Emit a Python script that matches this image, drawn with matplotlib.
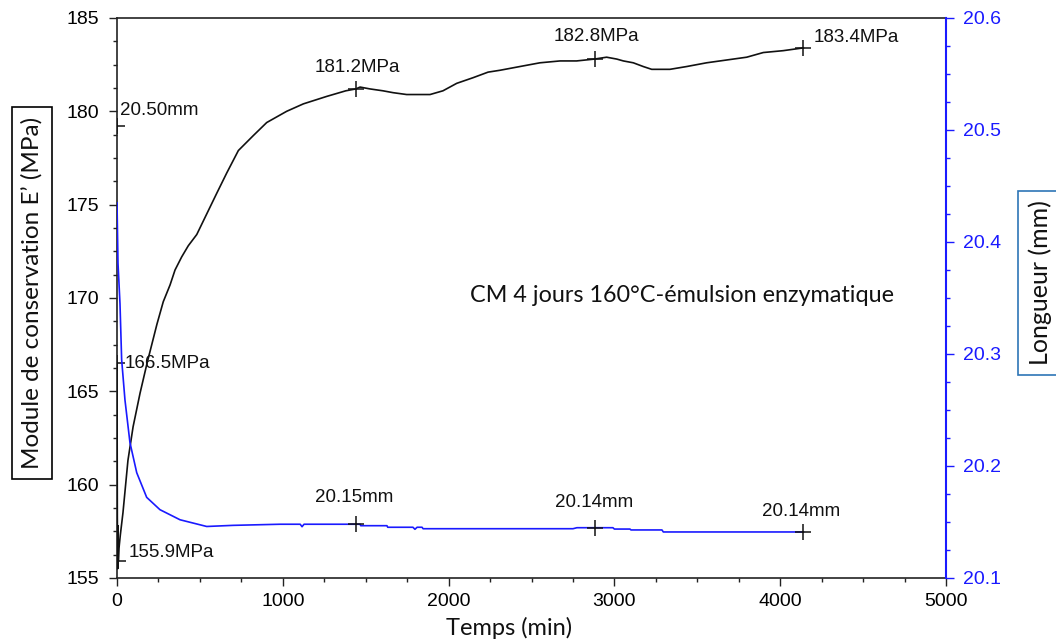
import matplotlib
matplotlib.use("Agg")
import matplotlib.pyplot as plt
from matplotlib.ticker import MultipleLocator, FormatStrFormatter

# modulus E' (MPa) vs time (min)
t_mod = [0, 2, 4, 6, 8, 12, 20, 36, 66, 97, 139, 181, 241, 279, 320, 350, 390, 430,
         481, 541, 601, 662, 732, 822, 903, 1023, 1124, 1265, 1380, 1440, 1466, 1526,
         1604, 1665, 1747, 1888, 1966, 2049, 2147, 2238, 2310, 2430, 2551, 2672, 2772,
         2880, 2953, 3014, 3054, 3114, 3174, 3225, 3335, 3436, 3556, 3677, 3798, 3898,
         4018, 4140]
mod = [166.5, 158.3, 155.5, 157.8, 155.9, 156.6, 157.3, 158.5, 161.3, 163.1, 164.9,
       166.5, 168.6, 169.8, 170.7, 171.5, 172.2, 172.8, 173.4, 174.5, 175.6, 176.7,
       177.9, 178.7, 179.4, 180.0, 180.4, 180.8, 181.1, 181.2, 181.3, 181.2, 181.1,
       181.0, 180.9, 180.9, 181.1, 181.5, 181.8, 182.1, 182.2, 182.4, 182.6, 182.7,
       182.7, 182.8, 182.9, 182.8, 182.7, 182.6, 182.4, 182.25, 182.25, 182.4, 182.6,
       182.75, 182.9, 183.15, 183.25, 183.4]

# length (mm) vs time (min)
t_len = [0, 6, 18, 28, 48, 78, 119, 179, 259, 380, 541, 700, 983, 1105, 1116, 1128,
         1466, 1470, 1628, 1633, 1785, 1797, 1810, 1840, 1846, 2750, 2774, 2991, 3000,
         3094, 3100, 3287, 3295, 4140]
length = [20.435, 20.381, 20.345, 20.295, 20.259, 20.221, 20.194, 20.172, 20.161,
          20.152, 20.146, 20.147, 20.148, 20.148, 20.1458, 20.148, 20.148, 20.1467,
          20.1467, 20.1453, 20.1453, 20.1435, 20.1453, 20.1453, 20.144, 20.144,
          20.1449, 20.1449, 20.1437, 20.1437, 20.1429, 20.1429, 20.1411, 20.1411]

# cursor markers
mark_mod_t = [0, 8, 1440, 2880, 4140]
mark_mod_v = [166.5, 155.9, 181.2, 182.8, 183.4]
mark_mod_txt = ["166.5MPa", "155.9MPa", "181.2MPa", "182.8MPa", "183.4MPa"]
mark_len_t = [0, 1440, 2880, 4140]
mark_len_v = [20.504, 20.148, 20.1449, 20.1411]
mark_len_txt = ["20.50mm", "20.15mm", "20.14mm", "20.14mm"]

tick_font = "Liberation Sans"
label_font = "Lato"
blue = "#1a1aff"

fig = plt.figure(figsize=(10.56, 6.41), dpi=100)
ax = fig.add_axes([117 / 1056, 63 / 641, 829 / 1056, 560 / 641])
ax2 = ax.twinx()

ax.plot(t_mod, mod, color="#111111", lw=1.2, zorder=3)
ax2.plot(t_len, length, color=blue, lw=1.2, zorder=3)

ax.plot(mark_mod_t, mark_mod_v, "+", color="#111111", ms=12, mew=1.1, zorder=4)
ax2.plot(mark_len_t, mark_len_v, "+", color="#111111", ms=12, mew=1.1, zorder=4)

# label offsets in pixels, with alignment
mod_off = [(8, 0, "left"), (10, 9, "left"), (2, 21, "center"), (2, 23, "center"), (10, 10, "left")]
len_off = [(3, 15, "left"), (-2, 27, "center"), (0, 25, "center"), (-2, 20, "center")]
for x, y, s, (dx, dy, ha) in zip(mark_mod_t, mark_mod_v, mark_mod_txt, mod_off):
    ax.annotate(s, xy=(x, y), xytext=(dx, dy), textcoords="offset pixels",
                ha=ha, va="center", fontsize=13.5, family=tick_font, color="#111111")
for x, y, s, (dx, dy, ha) in zip(mark_len_t, mark_len_v, mark_len_txt, len_off):
    ax2.annotate(s, xy=(x, y), xytext=(dx, dy), textcoords="offset pixels",
                 ha=ha, va="center", fontsize=13.5, family=tick_font, color="#111111")

ax.set_xlim(0, 5000)
ax.set_ylim(155, 185)
ax2.set_ylim(20.1, 20.6)

ax.xaxis.set_major_locator(MultipleLocator(1000))
ax.xaxis.set_minor_locator(MultipleLocator(250))
ax.yaxis.set_major_locator(MultipleLocator(5))
ax.yaxis.set_minor_locator(MultipleLocator(1.25))
ax2.yaxis.set_major_locator(MultipleLocator(0.1))
ax2.yaxis.set_minor_locator(MultipleLocator(0.025))
ax2.yaxis.set_major_formatter(FormatStrFormatter("%.1f"))

ax.tick_params(which="major", length=6, width=1, pad=7, labelsize=14, color="#222222")
ax.tick_params(which="minor", length=3, width=1, color="#222222")
ax.tick_params(axis="x", pad=5)
ax2.tick_params(which="major", length=6, width=1, pad=6, labelsize=14, colors=blue)
ax2.tick_params(which="minor", length=3, width=1, color=blue)
for lab in ax.get_xticklabels() + ax.get_yticklabels() + ax2.get_yticklabels():
    lab.set_family(tick_font)

for s in ["left", "bottom", "top"]:
    ax.spines[s].set_color("#222222")
    ax.spines[s].set_linewidth(1.2)
ax.spines["right"].set_visible(False)
for s in ["left", "bottom", "top"]:
    ax2.spines[s].set_visible(False)
ax2.spines["right"].set_color(blue)
ax2.spines["right"].set_linewidth(1.5)

fig.text(470 / 1056, 1 - 295 / 641, "CM 4 jours 160°C-émulsion enzymatique",
         family=label_font, fontsize=16.8, ha="left", va="center", color="#111111")
fig.text(509 / 1056, 1 - 628 / 641, "Temps (min)", family=label_font, fontsize=17,
         ha="center", va="center", color="#111111")
fig.text(32 / 1056, 1 - 293 / 641, "Module de conservation E’ (MPa)", rotation=90,
         family=label_font, fontsize=17.5, ha="center", va="center", color="#111111",
         bbox=dict(boxstyle="square,pad=0.4", fc="white", ec="black", lw=1.2))
fig.text(1040 / 1056, 1 - 283 / 641, "Longueur (mm)", rotation=90,
         family=label_font, fontsize=18, ha="center", va="center", color="#111111",
         bbox=dict(boxstyle="square,pad=0.4", fc="white", ec="#2e75b6", lw=1.2))

fig.savefig("out.png", dpi=100)
